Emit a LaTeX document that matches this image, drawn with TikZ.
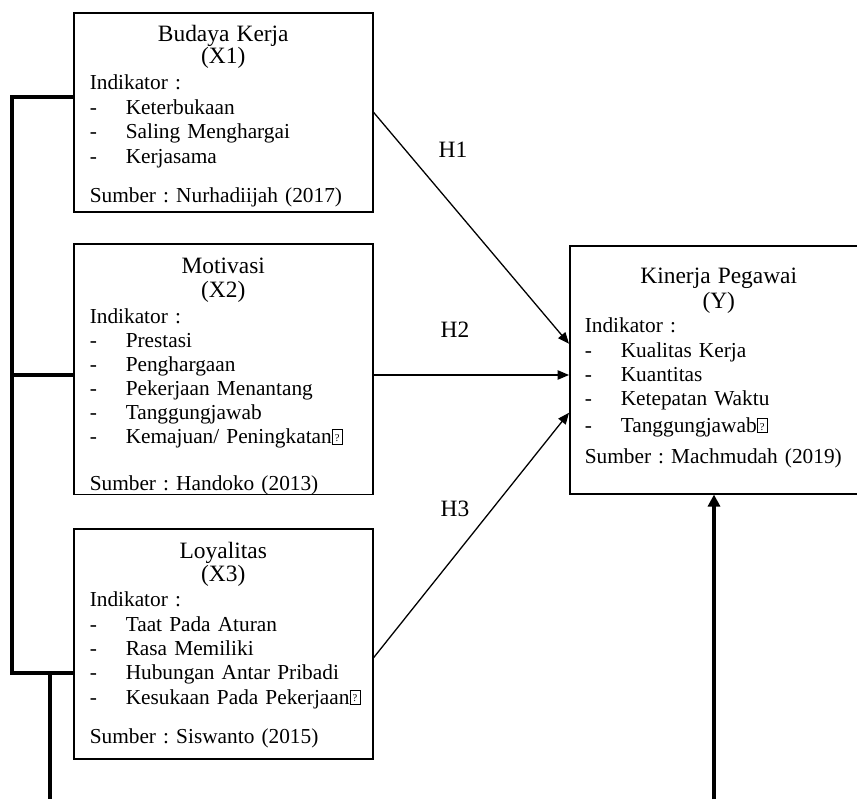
\documentclass[tikz,border=0pt]{standalone}
\usepackage{fontspec}
\setmainfont{Liberation Serif}
\usetikzlibrary{arrows.meta}
\frenchspacing
\tikzstyle{varbox}=[draw, line width=1.3pt, anchor=north west, align=left,
    inner xsep=0.48cm, inner ysep=0pt, font=\fontsize{18.2}{20.8}\selectfont]
\tikzstyle{conn}=[line width=1.1pt, -{Triangle[length=0.34cm,width=0.28cm]}]
\tikzstyle{bracket}=[line width=2.6pt]
\tikzstyle{foot}=[line width=3.3pt]
\tikzstyle{hlabel}=[font=\fontsize{20}{22}\selectfont]
\newcommand{\indline}[1]{\mbox{\makebox[1.08cm][l]{-}#1}}
\newcommand{\boxtitle}[2][14pt]{\hfill{\fontsize{20}{20}\selectfont\rule{0pt}{#1}#2}\hfill\null}
\newcommand{\qmark}{{\setlength{\fboxsep}{0pt}\setlength{\fboxrule}{0.45pt}%
    \fbox{\makebox[8.5pt]{\rule{0pt}{12pt}\raisebox{2pt}{\fontsize{9}{9}\selectfont ?}}}}}

\begin{document}
\begin{tikzpicture}[x=0.03cm, y=-0.03cm]
            \useasboundingbox (0,0) rectangle (857,799);

            \node[varbox, text width=8.01cm, minimum height=5.97cm] (x1) at (73,12)
                {\boxtitle[20.6pt]{Budaya Kerja}\\[-2.1pt]
                 \boxtitle{(X1)}\\[2.1pt]
                 Indikator :\\
                 \indline{Keterbukaan}\\
                 \indline{Saling Menghargai}\\
                 \indline{Kerjasama}\\[13.2pt]
                 Sumber : Nurhadiijah (2017)};
            \node[varbox, text width=8.01cm, minimum height=7.5cm] (x2) at (73,243)
                {\boxtitle[25pt]{Motivasi}\\[0pt]
                 \boxtitle{(X2)}\\[1.8pt]
                 Indikator :\\[-0.5pt]
                 \indline{Prestasi}\\[-0.3pt]
                 \indline{Penghargaan}\\[-0.3pt]
                 \indline{Pekerjaan Menantang}\\[-0.3pt]
                 \indline{Tanggungjawab}\\[-0.3pt]
                 \indline{Kemajuan/ Peningkatan\qmark}\\[18.8pt]
                 Sumber : Handoko (2013)};
            \node[varbox, text width=8.01cm, minimum height=6.9cm] (x3) at (73,528)
                {\boxtitle[17pt]{Loyalitas}\\[-1.3pt]
                 \boxtitle{(X3)}\\[0.4pt]
                 Indikator :\\
                 \indline{Taat Pada Aturan}\\
                 \indline{Rasa Memiliki}\\
                 \indline{Hubungan Antar Pribadi}\\
                 \indline{Kesukaan Pada Pekerjaan\qmark}\\[13.2pt]
                 Sumber : Siswanto (2015)};
            \node[varbox, text width=8.04cm, inner xsep=0.45cm, minimum height=7.44cm] (y) at (569,245)
                {\boxtitle{Kinerja Pegawai}\\[0pt]
                 \boxtitle{(Y)}\\[0pt]
                 Indikator :\\
                 \indline{Kualitas Kerja}\\
                 \indline{Kuantitas}\\
                 \indline{Ketepatan Waktu}\\[2pt]
                 \indline{Tanggungjawab\qmark}\\[6pt]
                 Sumber : Machmudah (2019)\rule[-7pt]{0pt}{0pt}};

            \node[hlabel] (h1) at (453,150) {H1};
            \node[hlabel] (h2) at (455,330) {H2};
            \node[hlabel] (h3) at (455,509) {H3};

            \coordinate (lt) at (12,97);
            \coordinate (lb) at (12,673);
            \coordinate (mid) at (372,375);
            \coordinate (lfoot) at (50,799);
            \coordinate (yfoot) at (714,799);

            % hypotheses
            \draw[conn] (x1.east) -- ([yshift=0.78cm]y.west);
            \draw[conn] (x2.east |- mid) -- (y.west |- mid);
            \draw[conn] ([yshift=-0.42cm]x3.east) -- ([yshift=-1.29cm]y.west);

            % simultaneous
            \draw[bracket] (x1.west |- lt) -- (lt) -- (lb) -- (x3.west |- lb);
            \draw[bracket] (lt |- mid) -- (x2.west |- mid);
            \draw[foot] (lfoot |- lb) -- (lfoot);
            \draw[foot, -{Triangle[length=0.36cm,width=0.36cm]}] (yfoot) -- (yfoot |- y.south);
        \end{tikzpicture}
\end{document}
